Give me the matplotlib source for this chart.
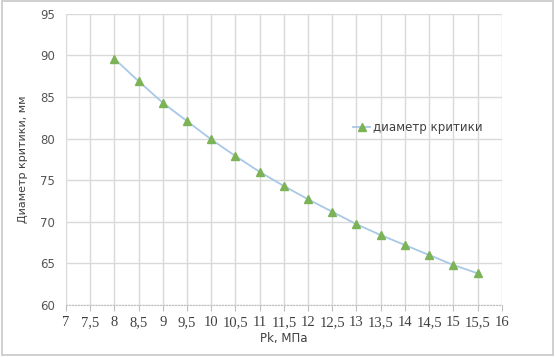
import matplotlib
matplotlib.use("Agg")
import matplotlib.pyplot as plt
from matplotlib.patches import Rectangle

# data
pk = [8, 8.5, 9, 9.5, 10, 10.5, 11, 11.5, 12, 12.5, 13, 13.5, 14, 14.5, 15, 15.5]
diam = [89.6, 86.9, 84.3, 82.1, 79.9, 77.9, 76.0, 74.3, 72.7, 71.2, 69.7, 68.4, 67.2, 66.0, 64.8, 63.8]
xticks = [7, 7.5, 8, 8.5, 9, 9.5, 10, 10.5, 11, 11.5, 12, 12.5, 13, 13.5, 14, 14.5, 15, 15.5, 16]
yticks = [60, 65, 70, 75, 80, 85, 90, 95]

fig = plt.figure(figsize=(5.55, 3.57), dpi=100)
fig.patches.append(Rectangle((0.003, 0.006), 0.994, 0.99, transform=fig.transFigure,
                             fill=False, edgecolor="#c8c8c8", linewidth=1.2))
ax = fig.add_axes([0.119, 0.146, 0.785, 0.815])

ax.plot(pk, diam, color="#a9c8e8", linewidth=1.3, marker="^", markersize=6,
        markerfacecolor="#7cb356", markeredgecolor="#7cb356", label="диаметр критики", zorder=3)

ax.set_xlim(7, 16)
ax.set_ylim(60, 95)
ax.set_xticks(xticks)
ax.set_xticklabels([str(v).replace(".", ",") if v % 1 else str(int(v)) for v in xticks],
                   fontfamily="Liberation Serif", fontsize=10.5, color="#404040")
ax.set_yticks(yticks)
ax.set_yticklabels([str(v) for v in yticks], fontfamily="DejaVu Sans", fontsize=8.5, color="#555555")
ax.grid(True, color="#d9d9d9", linewidth=1)
ax.set_axisbelow(True)
for s in ["top", "right", "left"]:
    ax.spines[s].set_visible(False)
ax.spines["bottom"].set_color("#bfbfbf")
ax.spines["bottom"].set_linestyle(":")
ax.tick_params(axis="y", length=0, pad=8)
ax.tick_params(axis="x", length=4, color="#bfbfbf", pad=4)

ax.set_xlabel("Pk, МПа", fontsize=8.5, color="#404040", labelpad=2)
ax.set_ylabel("Диаметр критики, мм", fontsize=8, color="#404040", labelpad=9)

ax.legend(loc="center left", bbox_to_anchor=(0.635, 0.61), frameon=False, fontsize=8.5,
          handlelength=1.4, handletextpad=0.3, labelcolor="#404040")

fig.savefig("out.png", dpi=100)
